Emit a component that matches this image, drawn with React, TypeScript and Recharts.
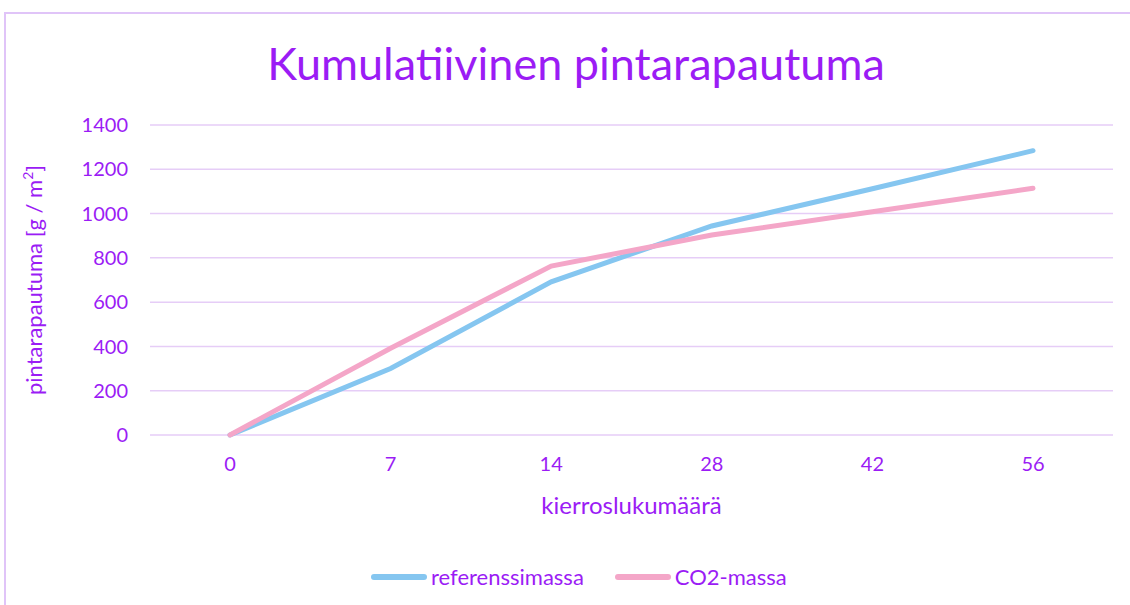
import React from "react";
import { CartesianGrid, Line, LineChart, XAxis, YAxis } from "recharts";

// kierroslukumäärä (category axis)
const rounds = ["0", "7", "14", "28", "42", "56"];
const referenssimassa = [0, 300, 692, 944, 1112, 1284];
const co2Massa = [0, 392, 763, 903, 1008, 1114];
const yTicks = [0, 200, 400, 600, 800, 1000, 1200, 1400];

const data = rounds.map((r, i) => ({
  round: r,
  referenssimassa: referenssimassa[i],
  co2: co2Massa[i],
}));

const purple = "#9B1CF5";
const font = "Lato, 'Open Sans', sans-serif";

const LegendItem = ({ color, label }: { color: string; label: string }) => (
  <div style={{ display: "flex", alignItems: "center" }}>
    <span style={{ display: "inline-block", width: 56, height: 6, borderRadius: 3, background: color, marginRight: 4 }} />
    {label}
  </div>
);

export default function App() {
  return (
    <div style={{ position: "absolute", left: 0, top: 0, width: 1130, height: 605, overflow: "hidden", background: "#fff" }}>
      <div style={{ position: "absolute", left: 0, top: 0 }}>
        <LineChart width={1130} height={605} data={data} margin={{ top: 125, right: 17, left: 0, bottom: 0 }}>
          <CartesianGrid vertical={false} stroke="#E6CDF7" strokeWidth={1.5} />
          <XAxis
            dataKey="round"
            height={170}
            padding={{ left: 80, right: 80 }}
            axisLine={false}
            tickLine={false}
            tickSize={0}
            tickMargin={22}
            tick={{ fill: purple, fontSize: 20, fontFamily: font }}
            interval={0}
          />
          <YAxis
            domain={[0, 1400]}
            ticks={yTicks}
            width={150}
            axisLine={false}
            tickLine={false}
            tickSize={0}
            tickMargin={22}
            tick={{ fill: purple, fontSize: 20, fontFamily: font }}
          />
          <Line
            dataKey="referenssimassa"
            type="linear"
            stroke="#85C6F0"
            strokeWidth={5}
            strokeLinecap="round"
            dot={false}
            isAnimationActive={false}
          />
          <Line
            dataKey="co2"
            name="CO2-massa"
            type="linear"
            stroke="#F4A6C8"
            strokeWidth={5}
            strokeLinecap="round"
            dot={false}
            isAnimationActive={false}
          />
        </LineChart>
      </div>
      <div
        style={{
          position: "absolute",
          left: 4,
          top: 12,
          width: 1140,
          height: 620,
          borderTop: "2px solid #E0C4F8",
          borderLeft: "2px solid #E0C4F8",
          boxSizing: "border-box",
          pointerEvents: "none",
        }}
      />
      <div
        style={{
          position: "absolute",
          top: 36,
          left: 0,
          width: 1152,
          textAlign: "center",
          fontFamily: font,
          fontSize: 45,
          color: purple,
        }}
      >
        Kumulatiivinen pintarapautuma
      </div>
      <div
        style={{
          position: "absolute",
          left: 33,
          top: 280,
          transform: "translate(-50%, -50%) rotate(-90deg)",
          whiteSpace: "nowrap",
          fontFamily: font,
          fontSize: 22,
          color: purple,
        }}
      >
        pintarapautuma [g / m<sup style={{ fontSize: 14 }}>2</sup>]
      </div>
      <div
        style={{
          position: "absolute",
          top: 490,
          left: 150,
          width: 963,
          textAlign: "center",
          fontFamily: font,
          fontSize: 24,
          color: purple,
        }}
      >
        kierroslukumäärä
      </div>
      <div
        style={{
          position: "absolute",
          top: 563,
          left: 371,
          display: "flex",
          gap: 31,
          fontFamily: font,
          fontSize: 22,
          color: purple,
        }}
      >
        <LegendItem color="#85C6F0" label="referenssimassa" />
        <LegendItem color="#F4A6C8" label="CO2-massa" />
      </div>
    </div>
  );
}
